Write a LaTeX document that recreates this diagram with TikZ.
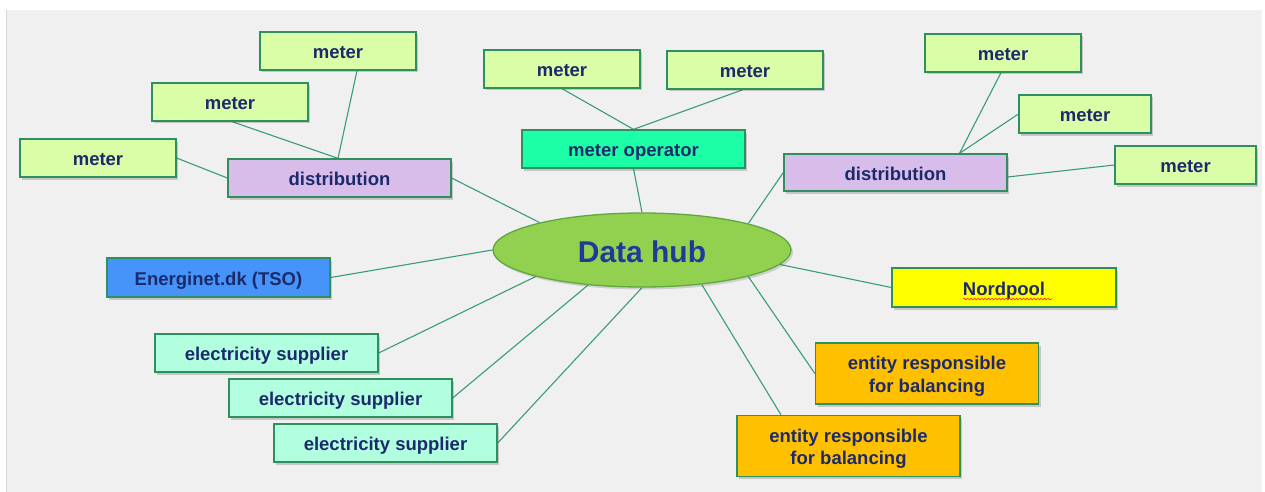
\documentclass[tikz,border=0pt]{standalone}
\usepackage{fontspec}
\setmainfont{Liberation Sans}
\usetikzlibrary{calc,shadows,shapes.geometric,decorations.pathmorphing,backgrounds}
\definecolor{bggray}{HTML}{F0F0F0}
\definecolor{bgedge}{HTML}{D6D6D6}
\definecolor{boxborder}{HTML}{2F8F5F}
\definecolor{linkc}{HTML}{3A9B78}
\definecolor{txt}{HTML}{1C2A6B}
\definecolor{hubtxt}{HTML}{203A9A}
\definecolor{meterfill}{HTML}{DAFDA8}
\definecolor{distfill}{HTML}{D8BDEA}
\definecolor{opfill}{HTML}{1CFFA6}
\definecolor{tsofill}{HTML}{4694F9}
\definecolor{supfill}{HTML}{B2FFE0}
\definecolor{nordfill}{HTML}{FFFF00}
\definecolor{entfill}{HTML}{FFC000}
\definecolor{hubfill}{HTML}{92D050}
\definecolor{hubborder}{HTML}{5FA83F}
\newcommand{\twolines}[2]{\raisebox{-3pt}[\height][\depth]{\begin{tabular}{@{}c@{}}#1\\[-0.5pt]#2\end{tabular}}}
\begin{document}
\begin{tikzpicture}[x=1pt,y=-1pt,
  box/.style={draw=boxborder, line width=1.3pt, rectangle, minimum height=38pt,
    inner sep=0pt, font=\fontsize{18.5}{23}\selectfont\bfseries, text=txt,
    text height=17.5pt, text depth=2pt,
    drop shadow={shadow xshift=2pt, shadow yshift=-2.5pt, opacity=0.25, fill=black!70}},
  meterbox/.style={box, fill=meterfill, minimum width=156pt},
  distbox/.style={box, fill=distfill, minimum width=223pt},
  opbox/.style={box, fill=opfill, minimum width=223pt},
  tsobox/.style={box, fill=tsofill, minimum width=223pt, minimum height=39pt},
  supbox/.style={box, fill=supfill, minimum width=223pt},
  nordbox/.style={box, fill=nordfill, minimum width=224pt, minimum height=39pt},
  entbox/.style={box, fill=entfill, minimum width=223pt, minimum height=61pt,
    text height={}, text depth={}},
  hubshape/.style={ellipse, draw=hubborder, line width=1.3pt, fill=hubfill,
    minimum width=298pt, minimum height=74pt, inner sep=0pt,
    font=\fontsize{30}{34}\selectfont\bfseries, text=hubtxt,
    text height=25.4pt, text depth=0pt,
    drop shadow={shadow xshift=2pt, shadow yshift=-2.5pt, opacity=0.2, fill=black!70}},
  link/.style={draw=linkc, line width=1.1pt}]
\useasboundingbox (0,0) rectangle (1265,492);
\begin{pgfonlayer}{background}
  \fill[white] (0,0) rectangle (1265,492);
  \fill[bggray] (7,10) rectangle (1262,492);
  \draw[bgedge, line width=1pt] (6.5,10) -- (6.5,492);
\end{pgfonlayer}

% left distribution cluster
\node[meterbox] (m1) at (338,51) {meter};
\node[meterbox] (m2) at (230,102) {meter};
\node[meterbox] (m3) at (98,158) {meter};
\node[distbox] (distL) at (339.5,178) {distribution};

% meter operator cluster
\node[meterbox] (mA) at (562,69) {meter};
\node[meterbox] (mB) at (745,70) {meter};
\node[opbox] (mop) at (633.5,149) {meter operator};

% right distribution cluster
\node[meterbox] (mC) at (1003,53) {meter};
\node[meterbox, minimum width=132pt] (mD) at (1085,114) {meter};
\node[meterbox, minimum width=141pt] (mE) at (1185.5,165) {meter};
\node[distbox, minimum height=37pt] (distR) at (895.5,172.5) {distribution};

% hub
\node[hubshape] (hub) at (642,250) {Data hub};

% others
\node[tsobox] (tso) at (218.5,277.5) {Energinet.dk (TSO)};
\node[supbox] (e1) at (266.5,353) {electricity supplier};
\node[supbox] (e2) at (340.5,398) {electricity supplier};
\node[supbox] (e3) at (385.5,443) {electricity supplier};
\node[nordbox] (nord) at (1004,287.5) {Nordpool};
\node[entbox] (ent1) at (927,373.5) {\twolines{entity responsible}{for balancing}};
\node[entbox] (ent2) at (848.5,446) {\twolines{entity responsible}{for balancing}};

% spell-check underline
\draw[red!80!orange, line width=0.6pt, decorate,
  decoration={snake, amplitude=0.9pt, segment length=3.5pt}]
  ($(nord.center)+(-41,11.5)$) -- ($(nord.center)+(48,11.5)$);

\begin{pgfonlayer}{background}
  \coordinate (dLtop) at ($(distL.north)+(-1.5,0)$);
  \draw[link] ($(m1.south)+(19,0)$) -- (dLtop);
  \draw[link] ($(m2.south)+(2,0)$) -- (dLtop);
  \draw[link] (m3.east) -- (distL.west);
  \draw[link] (distL.east) -- (hub.165);

  \draw[link] (mA.south) -- (mop.north);
  \draw[link] ($(mB.south)+(-2,0)$) -- (mop.north);
  \draw[link] (mop.south) -- (hub.north);

  \coordinate (dRtop) at ($(distR.north)+(64,0)$);
  \draw[link] ($(mC.south)+(-2,0)$) -- (dRtop);
  \draw[link] (mD.west) -- (dRtop);
  \draw[link] (mE.west) -- ($(distR.east)+(0,4.5)$);
  \draw[link] (distR.west) -- (hub.14);

  \draw[link] (tso.east) -- (hub.west);
  \draw[link] (e1.east) -- (hub.194);
  \draw[link] (e2.east) -- (hub.213);
  \draw[link] (e3.east) -- (hub.south);
  \draw[link] (nord.west) -- (hub.-6.4);
  \draw[link] (ent1.west) -- (hub.-14);
  \draw[link] ($(ent2.north)+(-67.5,0)$) -- (hub.-30);
\end{pgfonlayer}
\end{tikzpicture}
\end{document}
